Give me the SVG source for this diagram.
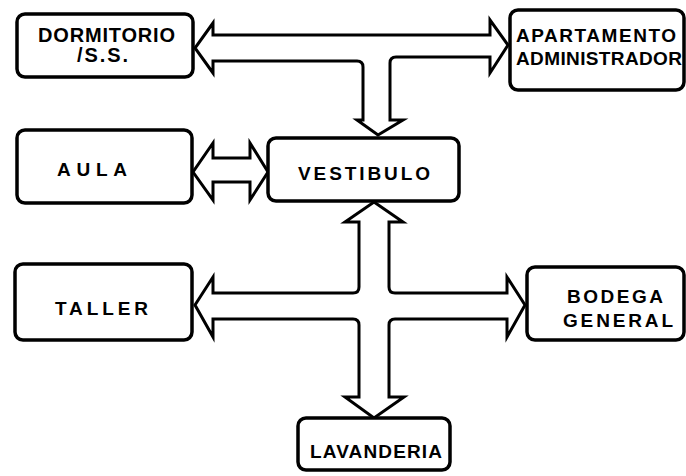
<svg xmlns="http://www.w3.org/2000/svg" width="686" height="476" viewBox="0 0 686 476">
<style>
.box{fill:#fff;stroke:#000;stroke-width:3.5}
.con{fill:#fff;stroke:#000;stroke-width:3;stroke-linejoin:miter}
text{font-family:"Liberation Sans",Arial,sans-serif;font-weight:bold;font-size:19px;fill:#000}
</style>
<rect width="686" height="476" fill="#fff"/>
<g id="connectors">
<path class="con" d="M 213,35 L 490,35 L 490,20 L 508,45 L 490,73 L 490,57 L 396,57 Q 390,57 390,63 L 390,120 L 403,120 L 378,135 L 357,120 L 363,120 L 363,67 Q 363,61 357,61 L 213,61 L 213,73 L 195,48 L 213,23 Z"/>
<path class="con" d="M 213,158 L 250,158 L 250,143 L 268,172 L 250,200 L 250,182 L 213,182 L 213,200 L 193,172 L 213,143 Z"/>
<path class="con" d="M 374,202 L 403,222 L 389,222 L 389,287 Q 389,293 395,293 L 507,293 L 507,277 L 525,305 L 507,337 L 507,319 L 395,319 Q 389,319 389,325 L 389,397 L 404,397 L 374,418 L 345,397 L 359,397 L 359,325 Q 359,319 353,319 L 213,319 L 213,337 L 195,305 L 213,277 L 213,293 L 353,293 Q 359,293 359,287 L 359,222 L 345,222 Z"/>
</g>
<g id="dormitorio">
<rect class="box" x="17" y="14" width="176" height="63" rx="8"/>
<text x="38" y="42" textLength="137" lengthAdjust="spacing" style="font-size:20px">DORMITORIO</text>
<text x="77" y="62" textLength="51" lengthAdjust="spacing" style="font-size:20px">/S.S.</text>
</g>
<g id="apartamento">
<rect class="box" x="510" y="10" width="174" height="80" rx="8"/>
<text x="516" y="42" textLength="160" lengthAdjust="spacing">APARTAMENTO</text>
<text x="516" y="65" textLength="166" lengthAdjust="spacing">ADMINISTRADOR</text>
</g>
<g id="aula">
<rect class="box" x="17" y="130" width="175" height="73" rx="8"/>
<text x="57" y="176" textLength="70" lengthAdjust="spacing">AULA</text>
</g>
<g id="vestibulo">
<rect class="box" x="268" y="138" width="191" height="63" rx="8"/>
<text x="298" y="180" textLength="132" lengthAdjust="spacing">VESTIBULO</text>
</g>
<g id="taller">
<rect class="box" x="15" y="264" width="177" height="76" rx="8"/>
<text x="55" y="315" textLength="93" lengthAdjust="spacing">TALLER</text>
</g>
<g id="bodega">
<rect class="box" x="527" y="267" width="157" height="73" rx="8"/>
<text x="567" y="303" textLength="96" lengthAdjust="spacing">BODEGA</text>
<text x="563" y="327" textLength="110" lengthAdjust="spacing">GENERAL</text>
</g>
<g id="lavanderia">
<rect class="box" x="298" y="418" width="152" height="52" rx="8"/>
<text x="310" y="458" textLength="132" lengthAdjust="spacing">LAVANDERIA</text>
</g>
</svg>
